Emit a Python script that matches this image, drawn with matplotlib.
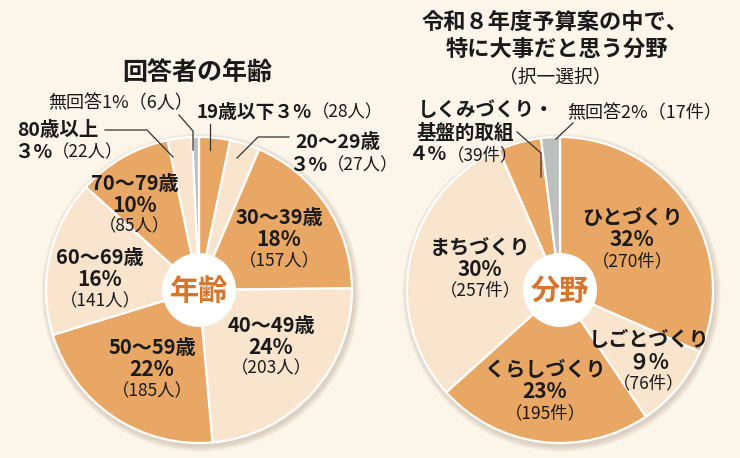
import matplotlib.pyplot as plt
from matplotlib.patches import Circle

plt.rcParams['font.family'] = ['Noto Sans CJK JP', 'DejaVu Sans']

# 回答者の年齢 (clockwise from the top)
age_names = ['19歳以下', '20～29歳', '30～39歳', '40～49歳', '50～59歳',
             '60～69歳', '70～79歳', '80歳以上', '無回答']
age_counts = [28, 27, 157, 203, 185, 141, 85, 22, 6]
age_pcts = ['３', '３', '18', '24', '22', '16', '10', '３', '1']

# 特に大事だと思う分野 (clockwise from the top)
field_names = ['ひとづくり', 'しごとづくり', 'くらしづくり', 'まちづくり',
               'しくみづくり・', '無回答']
field_counts = [270, 76, 195, 257, 39, 17]
field_pcts = ['32', '９', '23', '30', '４', '2']

DARK = '#E9A766'
LIGHT = '#F9E4CE'
GRAY = '#BDBEBE'
BG = '#FCF5E9'
ACCENT = '#D4762E'
INK = '#1A1A1A'

W, H = 740, 458
fig = plt.figure(figsize=(W / 100, H / 100), dpi=100, facecolor=BG)
ax = fig.add_axes([0, 0, 1, 1])
ax.set_facecolor(BG)


def slice_colors(n):
    cols = [DARK if i % 2 == 0 else LIGHT for i in range(n - 1)]
    return cols + [GRAY]


def draw_pie(values, cx, cy, r, center_text):
    # soft shadow
    for k in range(6):
        ax.add_patch(Circle((cx + 1.5, cy + 2.5), r + 1 + k, color='#8a7560',
                            alpha=0.05, lw=0, zorder=1))
    ax.pie(values, colors=slice_colors(len(values)), startangle=-90,
           counterclock=True, center=(cx, cy), radius=r,
           wedgeprops=dict(edgecolor='white', linewidth=1.6, zorder=2))
    ax.add_patch(Circle((cx, cy), 37, color='white', lw=0, zorder=3))
    ax.text(cx, cy + 1, center_text, ha='center', va='center', fontsize=21,
            fontweight='bold', color=ACCENT, zorder=4)


def inner_label(x, y, name, pct, count, unit):
    ax.text(x, y, name, ha='center', va='center', fontsize=14.5,
            fontweight='bold', color=INK, zorder=5)
    ax.text(x, y + 22, pct + '%', ha='center', va='center', fontsize=15,
            fontweight='bold', color=INK, zorder=5)
    ax.text(x, y + 43, '（%d%s）' % (count, unit), ha='center', va='center',
            fontsize=12.5, color=INK, zorder=5)


def leader(points):
    xs = [p[0] for p in points]
    ys = [p[1] for p in points]
    ax.plot(xs, ys, color='#333333', lw=0.9, zorder=6)


# ---- left chart ----
draw_pie(age_counts, 199, 290, 153, '年齢')
ax.text(197, 73, '回答者の年齢', ha='center', va='center', fontsize=18,
        fontweight='bold', color=INK)

inner_label(279, 218, age_names[2], age_pcts[2], age_counts[2], '人')
inner_label(271, 325, age_names[3], age_pcts[3], age_counts[3], '人')
inner_label(152, 348, age_names[4], age_pcts[4], age_counts[4], '人')
inner_label(100, 258, age_names[5], age_pcts[5], age_counts[5], '人')
inner_label(135, 183, age_names[6], age_pcts[6], age_counts[6], '人')

# 19歳以下
ax.text(312, 112, age_names[0] + age_pcts[0] + '%', ha='right', va='center',
        fontsize=13.5, fontweight='bold', color=INK)
ax.text(312, 112, '（%d人）' % age_counts[0], ha='left', va='center',
        fontsize=12.5, color=INK)
leader([(210, 124), (210, 150)])

# 20～29歳
ax.text(295, 142, age_names[1], ha='left', va='center', fontsize=14,
        fontweight='bold', color=INK)
ax.text(327, 165, age_pcts[1] + '%', ha='right', va='center', fontsize=14,
        fontweight='bold', color=INK)
ax.text(327, 165, '（%d人）' % age_counts[1], ha='left', va='center',
        fontsize=12.5, color=INK)
leader([(289, 137), (258, 137), (237, 158)])

# 80歳以上
ax.text(17, 130, age_names[7], ha='left', va='center', fontsize=14,
        fontweight='bold', color=INK)
ax.text(52, 152, age_pcts[7] + '%', ha='right', va='center', fontsize=14,
        fontweight='bold', color=INK)
ax.text(52, 152, '（%d人）' % age_counts[7], ha='left', va='center',
        fontsize=12.5, color=INK)
leader([(105, 130), (147, 130), (173, 157)])

# 無回答
ax.text(193, 103, '%s%s%%（%d人）' % (age_names[8], age_pcts[8], age_counts[8]),
        ha='right', va='center', fontsize=13, color=INK)
leader([(179, 115), (193, 131), (193, 150)])

# ---- right chart ----
draw_pie(field_counts, 560, 290, 153, '分野')
ax.text(555, 22, '令和８年度予算案の中で、', ha='center', va='center',
        fontsize=16, fontweight='bold', color=INK)
ax.text(557, 50, '特に大事だと思う分野', ha='center', va='center',
        fontsize=16, fontweight='bold', color=INK)
ax.text(555, 77, '（択一選択）', ha='center', va='center', fontsize=13.5,
        color=INK)

inner_label(632, 218, field_names[0], field_pcts[0], field_counts[0], '件')
inner_label(649, 340, field_names[1], field_pcts[1], field_counts[1], '件')
inner_label(545, 370, field_names[2], field_pcts[2], field_counts[2], '件')
inner_label(480, 247, field_names[3], field_pcts[3], field_counts[3], '件')

# しくみづくり・基盤的取組
ax.text(418, 110, field_names[4], ha='left', va='center', fontsize=14,
        fontweight='bold', color=INK)
ax.text(417, 133, '基盤的取組', ha='left', va='center', fontsize=14,
        fontweight='bold', color=INK)
ax.text(447, 155, field_pcts[4] + '%', ha='right', va='center', fontsize=14,
        fontweight='bold', color=INK)
ax.text(447, 155, '（%d件）' % field_counts[4], ha='left', va='center',
        fontsize=12.5, color=INK)
leader([(517, 132), (541, 153), (541, 177)])

# 無回答
ax.text(567, 113, '%s%s%%（%d件）' % (field_names[5], field_pcts[5], field_counts[5]),
        ha='left', va='center', fontsize=13, color=INK)
leader([(573, 123), (556, 139)])

ax.set_xlim(0, W)
ax.set_ylim(H, 0)
ax.set_aspect('auto')
ax.axis('off')

fig.savefig('out.png', dpi=100, facecolor=BG)
